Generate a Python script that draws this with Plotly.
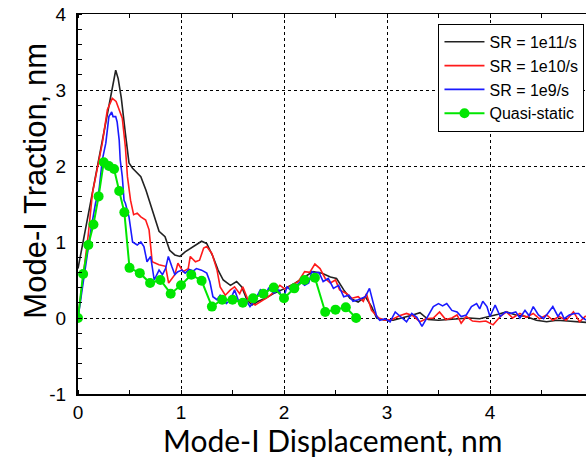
import plotly.graph_objects as go

# SR = 1e11/s
x_1e11 = [0, 0.1, 0.2, 0.3, 0.34, 0.366, 0.39, 0.42, 0.46, 0.495, 0.53, 0.61, 0.66, 0.72, 0.787, 0.845, 0.89, 0.94, 0.99, 1.04, 1.10, 1.20, 1.25, 1.31, 1.36, 1.41, 1.48, 1.54, 1.59, 1.64, 1.69, 1.75, 1.82, 1.91, 2.01, 2.11, 2.2, 2.28, 2.37, 2.45, 2.51, 2.58, 2.64, 2.72, 2.79, 2.85, 2.9, 2.98, 3.06, 3.15, 3.25, 3.32, 3.4, 3.5, 3.6, 3.7, 3.8, 3.9, 4.0, 4.08, 4.16, 4.25, 4.35, 4.45, 4.55, 4.65, 4.75, 4.85, 4.95]
y_1e11 = [0.65, 1.36, 2.08, 2.8, 3.1, 3.26, 3.15, 2.9, 2.43, 2.04, 1.97, 1.86, 1.68, 1.42, 1.14, 1.07, 0.89, 0.83, 0.81, 0.87, 0.92, 1.01, 0.98, 0.81, 0.63, 0.5, 0.43, 0.48, 0.41, 0.24, 0.17, 0.22, 0.26, 0.33, 0.39, 0.46, 0.54, 0.61, 0.59, 0.54, 0.52, 0.37, 0.26, 0.21, 0.28, 0.15, 0.0, -0.03, -0.03, 0.0, 0.04, 0.07, -0.02, -0.03, -0.02, -0.01, 0.0, -0.01, 0.02, 0.05, 0.08, 0.04, 0.02, -0.03, -0.05, -0.03, -0.04, -0.05, -0.06]

# SR = 1e10/s
x_1e10 = [0, 0.05, 0.1, 0.14, 0.19, 0.236, 0.285, 0.333, 0.37, 0.4, 0.43, 0.46, 0.48, 0.51, 0.54, 0.575, 0.61, 0.657, 0.69, 0.72, 0.786, 0.85, 0.88, 0.94, 0.97, 1.02, 1.07, 1.09, 1.14, 1.18, 1.22, 1.25, 1.30, 1.35, 1.38, 1.43, 1.48, 1.52, 1.57, 1.6, 1.65, 1.72, 1.78, 1.85, 1.91, 1.96, 2.01, 2.07, 2.14, 2.2, 2.25, 2.3, 2.35, 2.4, 2.45, 2.5, 2.54, 2.61, 2.66, 2.72, 2.77, 2.8, 2.85, 2.92, 2.98, 3.05, 3.12, 3.19, 3.25, 3.32, 3.38, 3.45, 3.51, 3.57, 3.63, 3.68, 3.72, 3.77, 3.83, 3.9, 3.96, 4.03, 4.1, 4.16, 4.22, 4.29, 4.35, 4.42, 4.48, 4.55, 4.61, 4.67, 4.74, 4.81, 4.87, 4.93]
y_1e10 = [0, 0.55, 1.1, 1.64, 1.99, 2.3, 2.74, 2.89, 2.85, 2.75, 2.63, 2.25, 1.86, 1.55, 1.36, 1.38, 1.33, 1.29, 1.16, 0.74, 0.70, 0.68, 0.46, 0.57, 0.72, 0.61, 0.65, 0.81, 0.74, 0.76, 0.92, 0.94, 0.85, 0.63, 0.41, 0.3, 0.37, 0.41, 0.32, 0.41, 0.24, 0.17, 0.22, 0.28, 0.35, 0.43, 0.38, 0.43, 0.48, 0.61, 0.6, 0.71, 0.65, 0.52, 0.46, 0.5, 0.37, 0.32, 0.26, 0.28, 0.22, 0.32, 0.1, 0.0, -0.03, -0.02, 0.03, 0.06, 0.03, -0.05, -0.01, 0.0, 0.08, -0.02, 0.0, 0.04, -0.07, 0.02, -0.04, -0.05, -0.04, -0.09, 0.02, 0.08, 0.0, 0.06, 0.01, 0.06, -0.01, 0.04, -0.03, 0.02, -0.03, 0.08, -0.05, 0.03]

# SR = 1e9/s
x_1e9 = [0, 0.05, 0.1, 0.13, 0.17, 0.204, 0.236, 0.27, 0.3, 0.327, 0.34, 0.366, 0.38, 0.4, 0.41, 0.43, 0.447, 0.46, 0.495, 0.53, 0.575, 0.61, 0.64, 0.67, 0.705, 0.74, 0.787, 0.82, 0.85, 0.877, 0.91, 0.94, 0.97, 1.01, 1.04, 1.08, 1.12, 1.15, 1.2, 1.25, 1.28, 1.31, 1.35, 1.38, 1.41, 1.44, 1.48, 1.52, 1.56, 1.6, 1.63, 1.67, 1.72, 1.77, 1.82, 1.85, 1.9, 1.95, 1.99, 2.03, 2.07, 2.11, 2.16, 2.2, 2.24, 2.27, 2.3, 2.34, 2.38, 2.43, 2.48, 2.53, 2.58, 2.63, 2.67, 2.72, 2.79, 2.83, 2.87, 2.9, 2.93, 2.98, 3.03, 3.08, 3.13, 3.19, 3.24, 3.29, 3.34, 3.39, 3.45, 3.5, 3.54, 3.58, 3.63, 3.68, 3.72, 3.77, 3.82, 3.87, 3.9, 3.93, 3.97, 4.0, 4.05, 4.1, 4.15, 4.2, 4.25, 4.29, 4.34, 4.38, 4.42, 4.47, 4.52, 4.56, 4.61, 4.66, 4.69, 4.72, 4.77, 4.82, 4.86, 4.9, 4.94]
y_1e9 = [0, 0.45, 0.95, 1.2, 1.51, 1.68, 2.08, 2.3, 2.65, 2.71, 2.65, 2.65, 2.58, 2.34, 2.08, 1.86, 1.55, 1.51, 1.33, 1.0, 0.96, 1.0, 0.94, 0.74, 0.81, 0.5, 0.63, 0.57, 0.65, 0.81, 0.68, 0.57, 0.61, 0.63, 0.59, 0.64, 0.62, 0.65, 0.63, 0.59, 0.48, 0.28, 0.24, 0.3, 0.26, 0.19, 0.24, 0.37, 0.22, 0.17, 0.24, 0.15, 0.24, 0.37, 0.3, 0.39, 0.33, 0.37, 0.24, 0.41, 0.36, 0.41, 0.48, 0.43, 0.46, 0.61, 0.59, 0.6, 0.48, 0.52, 0.39, 0.43, 0.28, 0.3, 0.22, 0.24, 0.28, 0.39, 0.19, 0.02, -0.03, -0.01, -0.05, 0.08, 0.02, -0.05, 0.06, 0.01, -0.11, 0.0, 0.15, 0.19, 0.16, 0.19, 0.1, 0.08, 0.02, 0.04, 0.15, 0.19, 0.12, 0.22, 0.15, 0.02, 0.17, 0.02, 0.08, 0.06, 0.08, 0.0, 0.1, 0.03, 0.15, 0.04, -0.01, 0.06, 0.15, 0.02, 0.08, -0.01, 0.04, 0.06, 0.06, 0.0, -0.03]

# Quasi-static
x_qs = [0, 0.05, 0.1, 0.15, 0.2, 0.25, 0.3, 0.35, 0.4, 0.45, 0.5, 0.6, 0.7, 0.8, 0.9, 1.0, 1.1, 1.2, 1.3, 1.4, 1.5, 1.6, 1.7, 1.8, 1.9, 2.0, 2.1, 2.2, 2.3, 2.4, 2.5, 2.6, 2.7]
y_qs = [0, 0.58, 0.96, 1.23, 1.6, 2.05, 2.0, 1.96, 1.67, 1.39, 0.66, 0.59, 0.46, 0.5, 0.32, 0.43, 0.57, 0.49, 0.15, 0.24, 0.24, 0.2, 0.26, 0.32, 0.4, 0.26, 0.39, 0.5, 0.53, 0.08, 0.11, 0.14, 0.0]

x_ticks = [0, 1, 2, 3, 4]
y_ticks = [-1, 0, 1, 2, 3, 4]

fig = go.Figure()
fig.add_trace(go.Scatter(x=x_1e11, y=y_1e11, mode="lines", name="SR = 1e11/s",
                         line=dict(color="#222222", width=1.6)))
fig.add_trace(go.Scatter(x=x_1e10, y=y_1e10, mode="lines", name="SR = 1e10/s",
                         line=dict(color="#ff1a1a", width=1.6)))
fig.add_trace(go.Scatter(x=x_1e9, y=y_1e9, mode="lines", name="SR = 1e9/s",
                         line=dict(color="#1a1aff", width=1.6)))
fig.add_trace(go.Scatter(x=x_qs, y=y_qs, mode="lines+markers", name="Quasi-static",
                         line=dict(color="#00e600", width=2),
                         marker=dict(color="#00e600", size=10)))
# invisible trace for top axis
fig.add_trace(go.Scatter(x=[0], y=[0], xaxis="x2", mode="markers",
                         marker=dict(opacity=0), showlegend=False, hoverinfo="skip"))

FONT = "Liberation Sans, Arial, sans-serif"
tickfont = dict(family=FONT, size=19, color="black")
fig.update_layout(
    width=586, height=461,
    margin=dict(l=78, r=0, t=14, b=67),
    paper_bgcolor="white", plot_bgcolor="white",
    showlegend=True,
    legend=dict(x=0.997, y=0.974, xanchor="right", yanchor="top",
                bordercolor="black", borderwidth=1, bgcolor="white",
                font=dict(family=FONT, size=16, color="black"),
                tracegroupgap=0, itemwidth=40),
    xaxis=dict(range=[0, 4.932], tickvals=x_ticks, ticktext=[str(v) for v in x_ticks],
               showgrid=True, gridcolor="black", griddash="dot", gridwidth=1,
               showline=True, linecolor="black", linewidth=2,
               ticks="", tickfont=tickfont, zeroline=False,
               minor=dict(dtick=0.5, tick0=0, ticks="inside", ticklen=4, tickcolor="black", showgrid=False)),
    xaxis2=dict(range=[0, 4.932], overlaying="x", side="top", anchor="y",
                showline=True, linecolor="black", linewidth=1, showticklabels=False,
                showgrid=False, zeroline=False, ticks="", tickvals=x_ticks,
                minor=dict(dtick=0.5, tick0=0, ticks="inside", ticklen=4, tickcolor="black", showgrid=False)),
    yaxis=dict(range=[-1, 4], tickvals=y_ticks, ticktext=[str(v) for v in y_ticks],
               showgrid=True, gridcolor="black", griddash="dot", gridwidth=1,
               showline=True, linecolor="black", linewidth=2,
               ticks="", tickfont=tickfont, zeroline=False, ticklabelstandoff=6,
               minor=dict(dtick=0.2, tick0=0, ticks="inside", ticklen=4, tickcolor="black", showgrid=False)),
    annotations=[
        dict(text="Mode-I Displacement, nm", xref="paper", yref="paper", x=0.5, y=-0.121,
             xanchor="center", yanchor="middle", showarrow=False,
             font=dict(family="Lato, Liberation Sans, sans-serif", size=30, color="black")),
        dict(text="Mode-I Traction, nm", xref="paper", yref="paper", x=-0.083, y=0.561,
             xanchor="center", yanchor="middle", textangle=-90, showarrow=False,
             font=dict(family=FONT, size=31, color="black")),
    ],
)

fig.write_html("out.html")
